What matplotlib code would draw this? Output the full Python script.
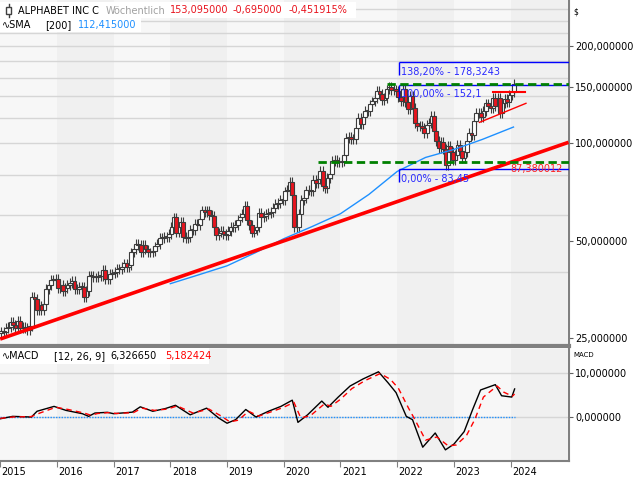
import numpy as np
import matplotlib.pyplot as plt
from matplotlib.transforms import ScaledTranslation
from matplotlib.patches import Rectangle
from matplotlib.lines import Line2D

# semi-monthly closes, Alphabet C, Jan 2015 - Jan 2024
closes = [
    26.2, 26.0, 26.8, 27.0, 28.0, 27.5, 26.9, 28.2, 26.9, 27.0, 26.8, 26.5,
    27.3, 33.5, 33.0, 30.5, 31.5, 30.5, 31.8, 35.5, 36.5, 37.8, 37.8, 38.0,
    35.8, 36.5, 35.0, 35.8, 36.5, 37.0, 37.5, 35.5, 35.5, 36.0, 36.0, 33.5,
    35.0, 39.0, 39.0, 38.5, 38.5, 39.0, 39.0, 40.5, 38.0, 38.0, 39.5, 39.6,
    40.0, 41.0, 41.0, 41.5, 42.5, 41.5, 42.0, 46.0, 47.0, 49.0, 48.5, 46.0,
    48.5, 47.0, 46.0, 46.0, 46.5, 48.0, 49.0, 51.0, 51.0, 51.5, 51.5, 52.5,
    55.0, 59.0, 53.0, 55.0, 57.0, 51.5, 51.0, 51.5, 54.0, 54.0, 56.5, 56.0,
    58.5, 62.0, 61.5, 62.0, 60.0, 59.5, 55.0, 52.0, 53.0, 53.5, 52.5, 52.0,
    53.5, 55.0, 55.0, 56.0, 58.0, 59.0, 60.5, 64.0, 58.0, 56.0, 53.0, 54.0,
    55.0, 61.0, 59.0, 59.5, 60.5, 61.0, 61.5, 63.0, 65.0, 65.5, 67.0, 67.0,
    71.0, 72.0, 76.0, 69.0, 55.0, 55.0, 60.5, 67.0, 68.0, 71.5, 72.0, 71.0,
    77.0, 75.5, 77.5, 82.0, 74.0, 73.0, 78.0, 80.5, 88.5, 89.0, 87.5, 87.5,
    88.0, 92.0, 104.0, 105.0, 103.0, 103.0, 112.0, 120.0, 115.0, 121.0, 126.0, 126.0,
    132.0, 135.0, 138.0, 145.0, 142.0, 136.0, 138.0, 147.0, 150.0, 146.0, 147.0, 145.0,
    139.0, 135.0, 147.0, 134.0, 128.0, 140.0, 129.0, 116.0, 113.0, 113.5, 112.0, 108.0,
    114.0, 116.0, 122.0, 109.0, 102.0, 97.0, 101.0, 96.0, 86.0, 98.0, 94.0, 89.0,
    92.0, 99.0, 95.0, 90.0, 94.0, 102.0, 108.0, 106.0, 117.0, 124.0, 124.0, 121.0,
    126.0, 133.0, 131.0, 129.0, 138.0, 131.0, 138.0, 124.0, 133.0, 137.0, 134.0, 141.0,
    144.0, 153.1,
]

sma_dates = [2018.0, 2018.5, 2019.0, 2019.5, 2020.0, 2020.5, 2021.0,
             2021.5, 2022.0, 2022.5, 2023.0, 2023.5, 2024.05]
sma_vals = [36.8, 39.2, 41.8, 45.9, 50.7, 55.3, 60.6,
            69.5, 81.9, 90.5, 95.8, 102.9, 112.4]

macd_dates = [2015.0, 2015.22, 2015.55, 2015.65, 2015.95, 2016.16, 2016.45, 2016.56,
              2016.67, 2016.89, 2017.0, 2017.33, 2017.47, 2017.69, 2017.91, 2018.09,
              2018.35, 2018.64, 2018.85, 2019.0, 2019.15, 2019.33, 2019.51, 2019.73,
              2019.95, 2020.15, 2020.25, 2020.42, 2020.67, 2020.78, 2020.96, 2021.17,
              2021.4, 2021.67, 2021.84, 2021.98, 2022.16, 2022.27, 2022.45, 2022.67,
              2022.85, 2023.0, 2023.18, 2023.33, 2023.47, 2023.73, 2023.84, 2024.02, 2024.07]
macd_vals = [-0.4, 0.15, 0.0, 1.3, 2.4, 1.5, 0.75, 0.15,
             0.9, 1.06, 0.75, 1.1, 2.3, 1.3, 1.9, 2.65,
             0.5, 2.0, -0.2, -1.4, -0.6, 1.7, 0.0, 1.3,
             2.4, 3.8, -1.2, 0.5, 3.6, 2.2, 4.5, 7.0,
             8.6, 10.2, 7.7, 5.5, 0.15, -0.6, -6.8, -3.6,
             -7.4, -6.1, -3.3, 1.7, 6.1, 7.3, 4.8, 4.5, 6.33]

signal_dates = [2015.0, 2015.22, 2015.55, 2015.7, 2015.98, 2016.2, 2016.48, 2016.6,
                2016.72, 2016.92, 2017.05, 2017.35, 2017.5, 2017.72, 2017.95, 2018.12,
                2018.4, 2018.68, 2018.9, 2019.05, 2019.2, 2019.38, 2019.56, 2019.76,
                2019.98, 2020.18, 2020.3, 2020.47, 2020.72, 2020.83, 2021.0, 2021.2,
                2021.43, 2021.7, 2021.88, 2022.02, 2022.2, 2022.3, 2022.5, 2022.7,
                2022.9, 2023.04, 2023.22, 2023.37, 2023.52, 2023.76, 2023.88, 2024.03, 2024.07]
signal_vals = [-0.3, 0.0, 0.1, 0.9, 2.2, 1.7, 0.9, 0.4,
               0.8, 1.0, 0.8, 1.0, 2.0, 1.5, 1.8, 2.5,
               0.9, 1.8, 0.2, -1.1, -0.7, 1.3, 0.2, 1.1,
               2.1, 3.3, -0.2, 0.3, 3.0, 2.4, 4.0, 6.4,
               8.2, 9.8, 8.5, 6.5, 2.0, -0.3, -5.2, -4.5,
               -6.5, -6.3, -4.2, -0.5, 4.5, 7.0, 5.6, 4.7, 5.18]

price_ticks = [25, 50, 100, 150, 200]
price_grid = [40, 60, 80, 100, 120, 140, 160, 180, 200, 220, 240, 260]
macd_ticks = [0, 10]
years = list(range(2015, 2025))

fib_levels = [83.45, 152.1, 178.3243]
fib_labels = ["0,00% - 83,45", "100,00% - 152,1", "138,20% - 178,3243"]
fib_start = 2022.04
support = 87.380012
support_start = 2020.6
resistance = 152.8
resistance_start = 2021.82
trend_x = [2015.0, 2025.02]
trend_y = [24.8, 100.8]
channel_top = ([2023.69, 2024.26], [144.0, 144.0])
channel_bottom = ([2023.45, 2024.27], [116.2, 133.1])

XMIN, XMAX = 2014.997, 2025.02
W, H = 640, 480

fig = plt.figure(figsize=(6.4, 4.8), dpi=100)
fig.patch.set_facecolor('white')
ax = fig.add_axes([0, 1 - 346 / H, 568.5 / W, 346 / H])
ax2 = fig.add_axes([0, 1 - 460.5 / H, 568.5 / W, 112 / H])

for a in (ax, ax2):
    a.set_facecolor('#f7f7f7')
    for yr in range(2014, 2026):
        if yr % 2 == 0:
            a.axvspan(yr, yr + 1, color='#f0f0f0', lw=0, zorder=0)
    a.set_xlim(XMIN, XMAX)
    for s in ('left', 'top'):
        a.spines[s].set_visible(False)
    a.spines['right'].set_color('#808080')
    a.spines['right'].set_linewidth(1.5)
    a.spines['bottom'].set_color('#808080')
    a.yaxis.tick_right()
    a.tick_params(axis='y', length=3, width=0.8, color='#606060', labelsize=7, pad=2)

# ---- price panel
ax.set_yscale('log')
ax.set_ylim(23.6, 278)
for g in price_grid:
    ax.axhline(g, color='#d6d6d6', lw=1, zorder=1)
ax.spines['bottom'].set_linewidth(3)
ax.set_xticks([])
ax.set_yticks(price_ticks)
ax.set_yticklabels([f"{v:.6f}".replace('.', ',') for v in price_ticks])
ax.yaxis.set_minor_locator(plt.NullLocator())

c = np.array(closes)
o = np.concatenate([[c[0] * 0.985], c[:-1]])
t = 2015.02 + np.arange(len(c)) / 24
wick = 0.035
hi = np.maximum(o, c) * (1 + wick)
lo = np.minimum(o, c) * (1 - wick)
ax.vlines(t, lo, hi, color='#3c3c3c', lw=0.8, zorder=3)
up = c >= o
body_lo = np.minimum(o, c)
body_h = np.maximum(np.abs(c - o), c * 0.004)
ax.bar(t[up], body_h[up], bottom=body_lo[up], width=1.6 / 24, color='white',
       edgecolor='#3c3c3c', lw=0.8, zorder=4)
ax.bar(t[~up], body_h[~up], bottom=body_lo[~up], width=1.6 / 24, color='#e8141e',
       edgecolor='#3c3c3c', lw=0.8, zorder=4)

ax.plot(sma_dates, sma_vals, color='#1e90ff', lw=1, zorder=5)
ax.plot(trend_x, trend_y, color='#ff0000', lw=2.6, zorder=6, solid_capstyle='butt')

ax.hlines(support, support_start, XMAX, color='#008000', lw=2, linestyles=(0, (3, 1.6)), zorder=6)
ax.hlines(resistance, resistance_start, XMAX, color='#008000', lw=2, linestyles=(0, (3, 1.6)), zorder=6)
for lev, lab in zip(fib_levels, fib_labels):
    ax.hlines(lev, fib_start, XMAX, color='#0000ff', lw=1, zorder=5)
    ax.vlines(fib_start, lev * 2 ** (-13 / 97), lev, color='#0000ff', lw=1, zorder=5)
    ax.annotate(lab, xy=(fib_start, lev), xytext=(1, -7), textcoords='offset points',
                color='#2a2aff', fontsize=7, va='center', ha='left', zorder=7)
ax.annotate("87,380012", xy=(XMAX, support), xytext=(-4, -4.5), textcoords='offset points',
            color='#ff2020', fontsize=7, va='center', ha='right', zorder=7)
ax.plot(*channel_top, color='#ff0000', lw=1.5, zorder=6)
ax.plot(*channel_bottom, color='#ff0000', lw=1, zorder=6)

# ---- MACD panel
ax2.set_ylim(-9.8, 15.45)
for g in macd_ticks:
    ax2.axhline(g, color='#d6d6d6', lw=1, zorder=1)
ax2.hlines(0, 2015.0, 2024.07, color='#1e90ff', lw=1, linestyles=(0, (1, 1)), zorder=2)
ax2.plot(macd_dates, macd_vals, color='black', lw=1, zorder=3)
ax2.plot(signal_dates, signal_vals, color='#ff0000', lw=1, linestyle=(0, (4, 3)), zorder=4)
ax2.set_yticks(macd_ticks)
ax2.set_yticklabels([f"{v:.6f}".replace('.', ',') for v in macd_ticks])
ax2.spines['bottom'].set_linewidth(1.5)
ax2.set_xticks(years)
ax2.set_xticklabels([str(y) for y in years])
ax2.tick_params(axis='x', length=4, width=0.8, color='#808080', labelsize=7, pad=1)
shift = ScaledTranslation(1.5 / 100, 0, fig.dpi_scale_trans)
for lab in ax2.get_xticklabels():
    lab.set_horizontalalignment('left')
    lab.set_transform(lab.get_transform() + shift)


# ---- header text, positions in pixels
def ftxt(px, py, s, **kw):
    fig.text(px / W, 1 - py / H, s, va='center', ha='left', fontsize=7, **kw)


def fbox(x0, y0, x1, y1, fc='white', ec='none', lw=0, z=5):
    fig.patches.append(Rectangle((x0 / W, 1 - y1 / H), (x1 - x0) / W, (y1 - y0) / H,
                                 transform=fig.transFigure, facecolor=fc,
                                 edgecolor=ec, lw=lw, zorder=z))


fbox(0, 2, 356, 18)
fbox(0, 18, 141, 32)
fbox(0, 348, 209, 364)

# candle icon in the header
fig.add_artist(Line2D([8.5 / W, 8.5 / W], [1 - 4 / H, 1 - 17 / H], color='#404040', lw=1, zorder=6))
fbox(6, 7, 11, 14, fc='white', ec='#404040', lw=1, z=7)

ftxt(18, 10.5, "ALPHABET INC C", color='black', zorder=6)
ftxt(106, 10.5, "Wöchentlich", color='#a0a0a0', zorder=6)
ftxt(170, 10.5, "153,095000", color='#e8141e', zorder=6)
ftxt(233, 10.5, "-0,695000", color='#e8141e', zorder=6)
ftxt(289, 10.5, "-0,451915%", color='#e8141e', zorder=6)
ftxt(2, 25, "\u223fSMA", color='black', zorder=6)
ftxt(45, 25, "[200]", color='black', zorder=6)
ftxt(78, 25, "112,415000", color='#1e90ff', zorder=6)
ftxt(2, 356, "\u223fMACD", color='black', zorder=6)
ftxt(54, 356, "[12, 26, 9]", color='black', zorder=6)
ftxt(110, 356, "6,326650", color='black', zorder=6)
ftxt(165, 356, "5,182424", color='#ff0000', zorder=6)
fig.text(573 / W, 1 - 12 / H, "$", fontsize=5.5, va='center')
fig.text(573 / W, 1 - 355 / H, "MACD", fontsize=5, va='center')

fig.savefig('out.png', dpi=100)
